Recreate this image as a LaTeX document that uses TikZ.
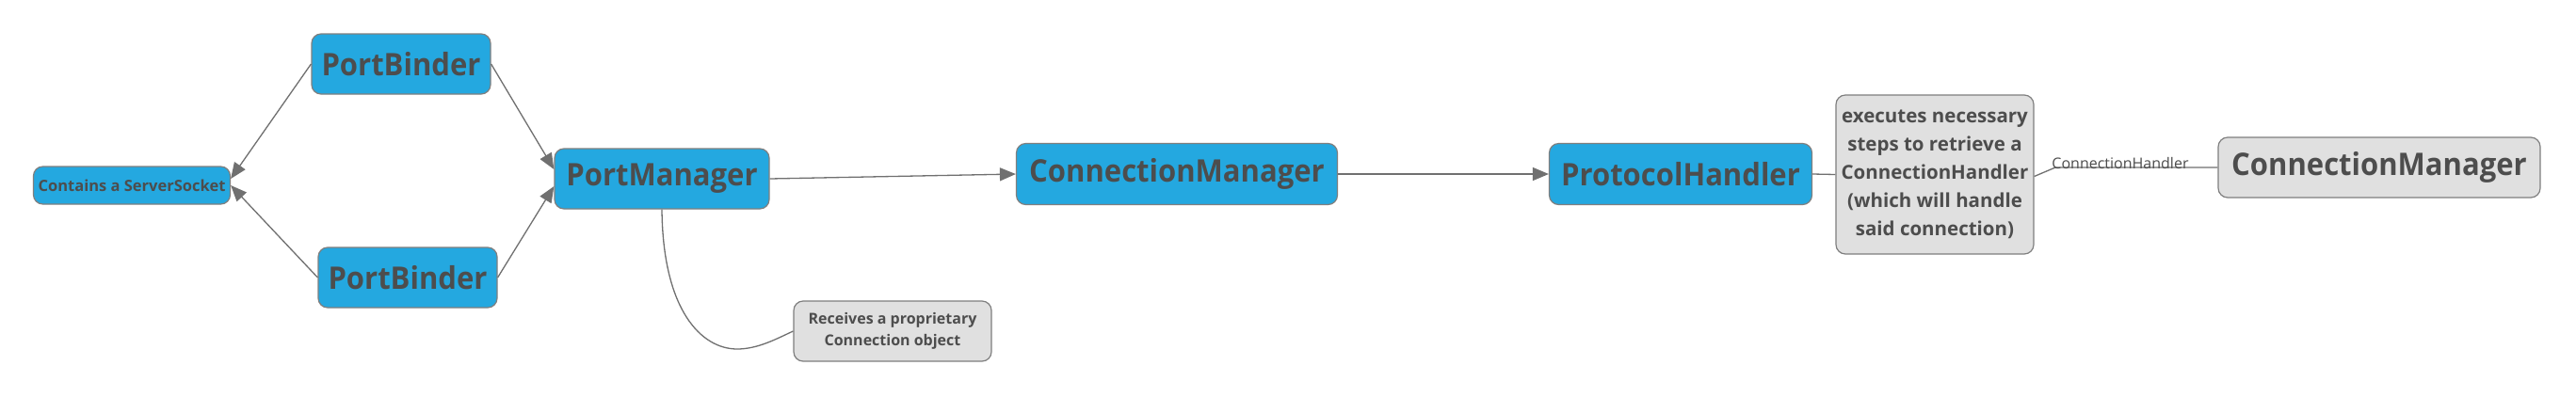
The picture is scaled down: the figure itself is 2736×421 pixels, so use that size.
\documentclass[tikz,border=0pt]{standalone}
\usepackage{fontspec}
\setmainfont{Open Sans}
\newfontfamily\bigfont{Open Sans}[FakeStretch=0.94]
\usetikzlibrary{arrows.meta}
\definecolor{nblue}{HTML}{24A8E0}
\definecolor{ngray}{HTML}{E0E0E0}
\definecolor{nborder}{HTML}{7F7F7F}
\definecolor{ntext}{HTML}{4D4D4D}
\definecolor{nline}{HTML}{707070}
\begin{document}
\begin{tikzpicture}[x=1pt,y=-1pt,
  basebox/.style={draw=nborder, line width=1.2pt, rounded corners=10pt, text=ntext, inner sep=0pt, align=center},
  bluebox/.style={basebox, fill=nblue},
  graybox/.style={basebox, fill=ngray},
  big/.style={font=\bigfont\fontsize{33}{38}\selectfont\bfseries},
  conn/.style={draw=nline, line width=1.3pt},
  arr/.style={conn, -{Triangle[length=17pt,width=14pt]}, color=nline}
]
\useasboundingbox[fill=white] (0,0) rectangle (2736,421);

\node[bluebox, minimum width=209pt, minimum height=40pt, font=\fontsize{16.5}{20}\selectfont\bfseries] (cs) at (140,197) {Contains a ServerSocket};
\node[bluebox, big, minimum width=190pt, minimum height=64pt] (pb1) at (426,68) {PortBinder};
\node[bluebox, big, minimum width=190pt, minimum height=64pt] (pb2) at (433,295) {PortBinder};
\node[bluebox, big, minimum width=228pt, minimum height=64pt] (pm) at (703,190) {PortManager};
\node[bluebox, big, minimum width=341pt, minimum height=65pt] (cm) at (1250,185) {ConnectionManager};
\node[bluebox, big, minimum width=279pt, minimum height=65pt] (ph) at (1785,185) {ProtocolHandler};
\node[graybox, minimum width=210pt, minimum height=64pt, font=\fontsize{16}{23}\selectfont\bfseries] (rec) at (948,352) {Receives a proprietary\\Connection object};
\node[graybox, minimum width=210pt, minimum height=169pt, font=\fontsize{20.5}{30}\selectfont\bfseries] (ex) at (2055,185.5) {executes necessary\\steps to retrieve a\\ConnectionHandler\\(which will handle\\said connection)};
\node[graybox, big, minimum width=342pt, minimum height=64pt] (cm2) at (2527,178) {ConnectionManager};

\draw[arr] (pb1.west) -- ([yshift=7pt]cs.east);
\draw[arr] (pb2.west) -- (cs.east);
\draw[arr] (pb1.east) -- ([yshift=10pt]pm.west);
\draw[arr] (pb2.east) -- ([yshift=-8pt]pm.west);
\draw[arr] (pm.east) -- (cm.west);
\draw[arr] (cm.east) -- (ph.west);
\draw[conn] (ph.east) -- (ex.west);
\draw[conn] (pm.south) .. controls (704,330) and (745,371) .. (783,371) .. controls (805,371) and (825,360) .. (rec.west);
\coordinate (bend) at (2183,178);
\draw[conn] ([yshift=-2pt]ex.east) -- (bend) -- (cm2.west)
  node[pos=0.4, anchor=base, yshift=-1pt, text=ntext, font=\fontsize{16}{19}\selectfont, inner sep=0pt] (lab) {ConnectionHandler};
\end{tikzpicture}
\end{document}
